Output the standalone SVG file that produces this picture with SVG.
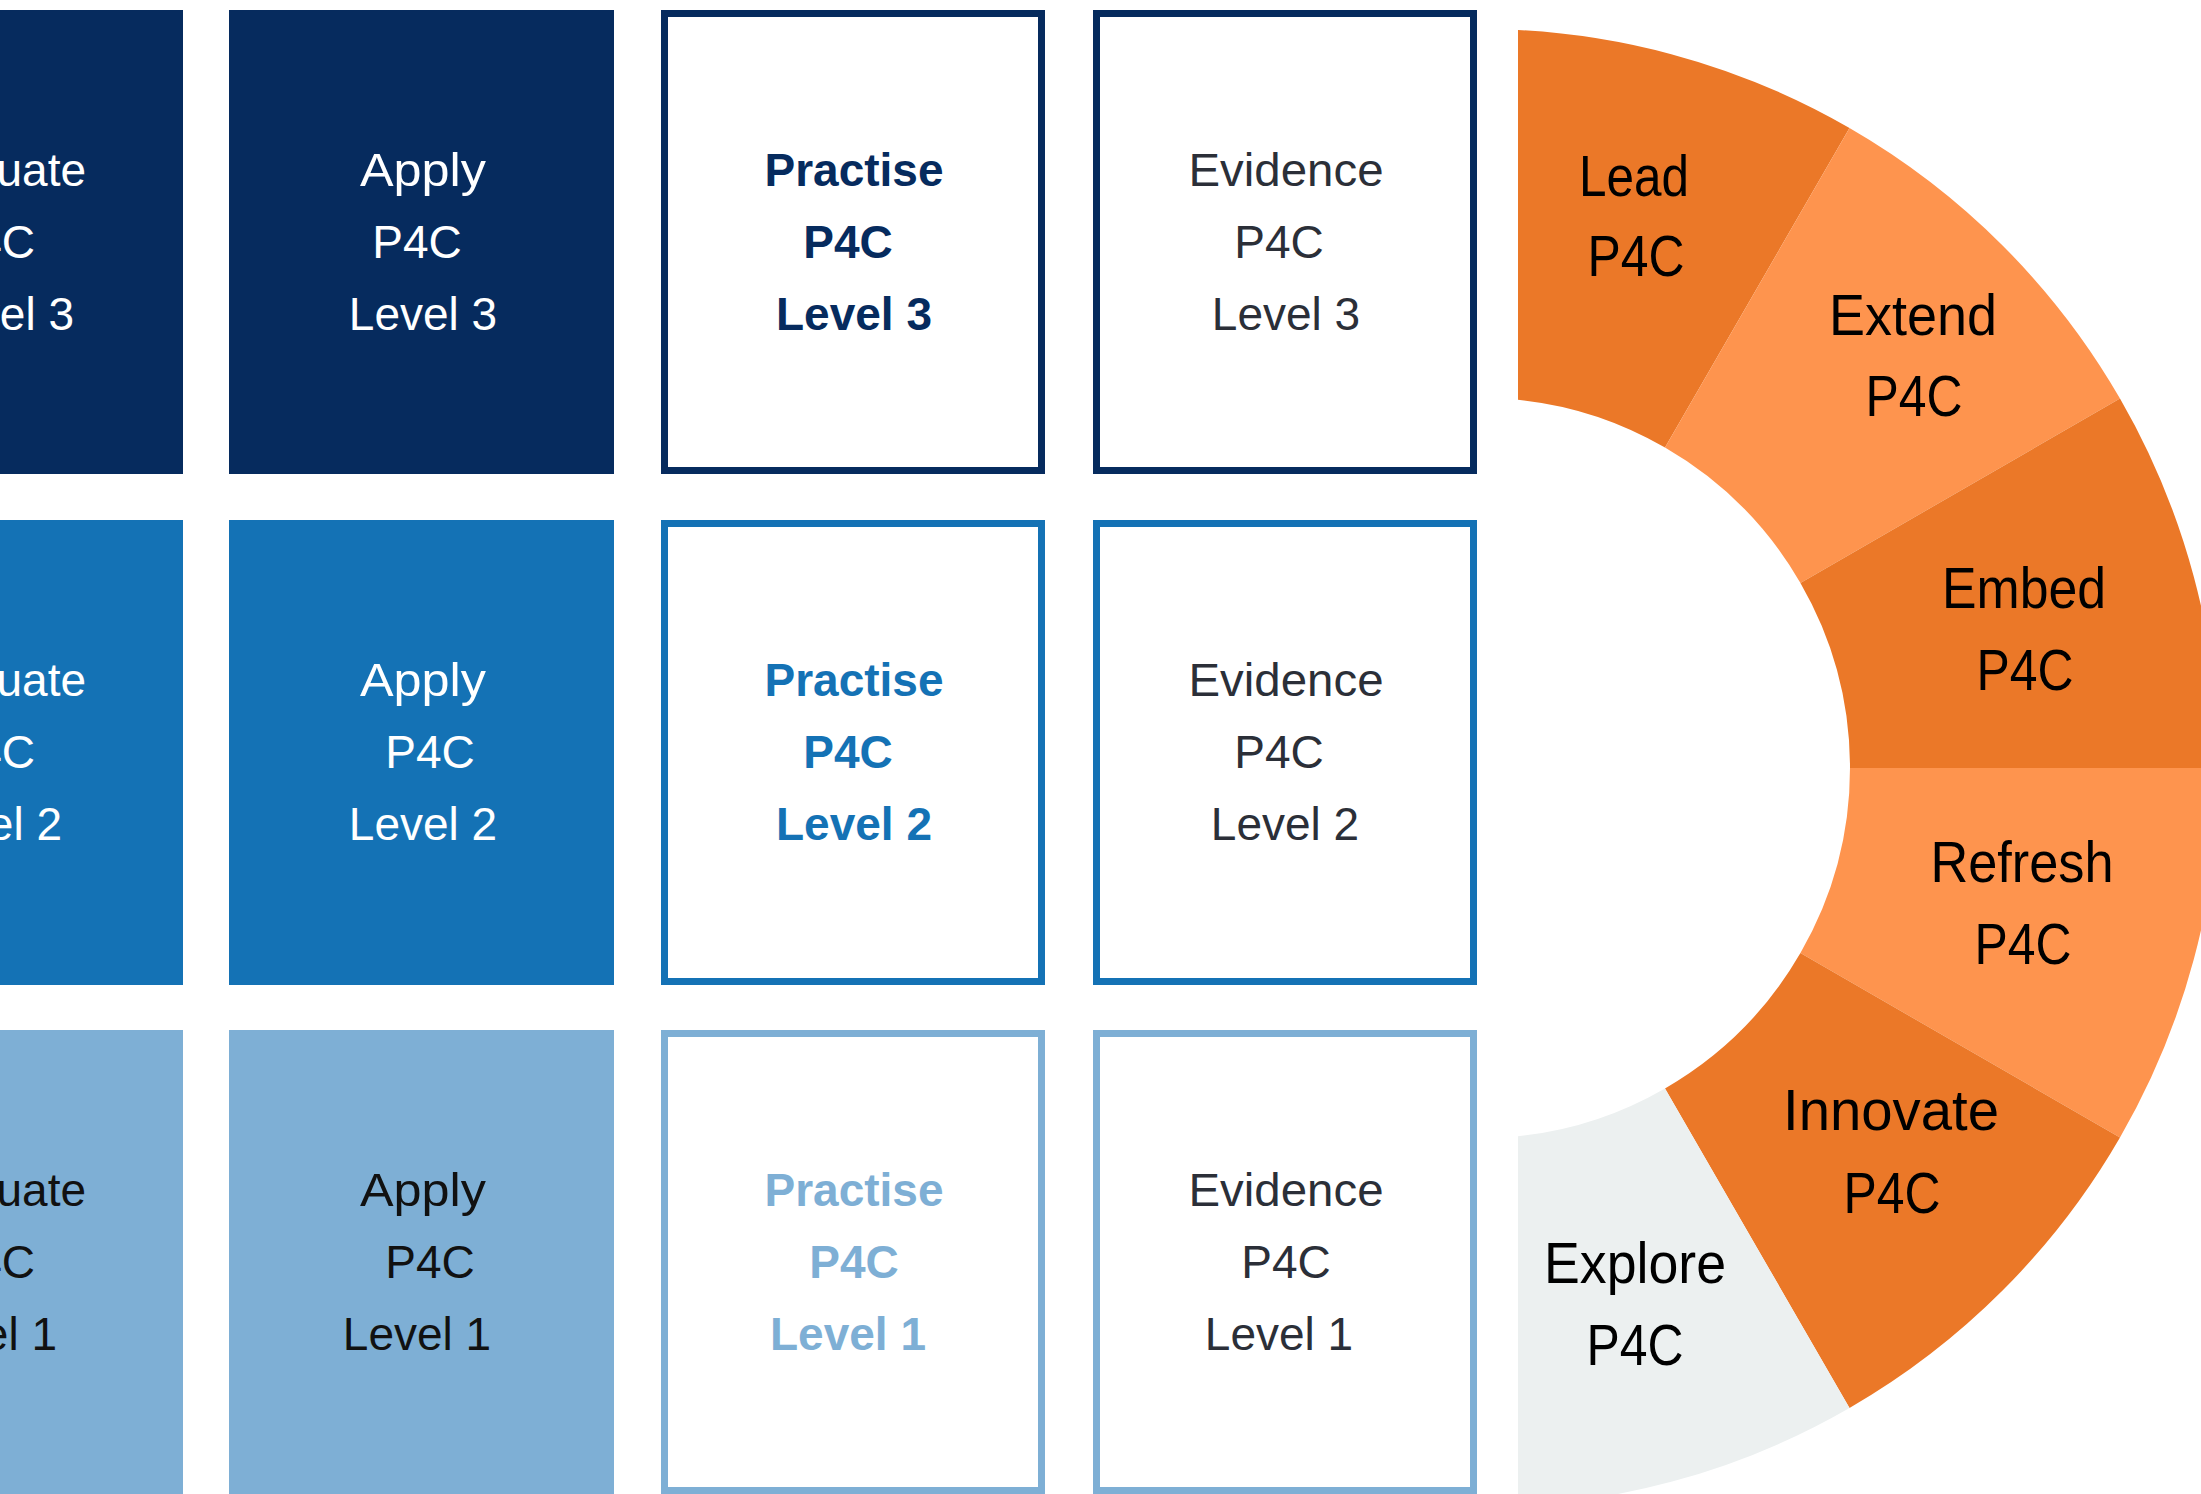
<svg xmlns="http://www.w3.org/2000/svg" width="2201" height="1494" viewBox="0 0 2201 1494">
<style>
.t{font-family:"Liberation Sans",Arial,sans-serif;font-size:46px;text-anchor:middle}
.e{text-anchor:end}
.b{font-weight:bold}
.r{font-family:"Liberation Sans",Arial,sans-serif;font-size:57px;text-anchor:middle;fill:#000}
.f3{fill:#062B5E}.f2{fill:#1472B5}.f1{fill:#7EAFD5}
.s3{fill:#fff;stroke:#062B5E;stroke-width:7}
.s2{fill:#fff;stroke:#1472B5;stroke-width:7}
.s1{fill:#fff;stroke:#7EAFD5;stroke-width:7}
.w{fill:#fff}.k{fill:#111}.g{fill:#2B2F38}
.dk{fill:#EB7828}.lt{fill:#FE944E}.gr{fill:#ECF0F0}
</style>
<defs>
<clipPath id="ringclip"><rect x="1518" y="0" width="700" height="1494"/></clipPath>
</defs>
<rect width="2201" height="1494" fill="#fff"/>

<!-- Column 1 (cut off at the left edge, as in the reference) -->
<g id="evaluate-3"><rect x="-202" y="10" width="385" height="464" class="f3"/>
<text class="t e w" x="86" y="186">Evaluate</text><text class="t e w" x="35" y="258">P4C</text><text class="t e w" x="74" y="330">Level 3</text></g>
<g id="evaluate-2"><rect x="-202" y="520" width="385" height="465" class="f2"/>
<text class="t e w" x="86" y="696">Evaluate</text><text class="t e w" x="35" y="768">P4C</text><text class="t e w" x="62" y="840">Level 2</text></g>
<g id="evaluate-1"><rect x="-202" y="1030" width="385" height="465" class="f1"/>
<text class="t e k" x="86" y="1206">Evaluate</text><text class="t e k" x="35" y="1278">P4C</text><text class="t e k" x="57" y="1350">Level 1</text></g>

<!-- Column 2: Apply -->
<g id="apply-3"><rect x="229" y="10" width="385" height="464" class="f3"/>
<text class="t w" x="423" y="186" textLength="126" lengthAdjust="spacingAndGlyphs">Apply</text><text class="t w" x="417" y="258">P4C</text><text class="t w" x="423" y="330">Level 3</text></g>
<g id="apply-2"><rect x="229" y="520" width="385" height="465" class="f2"/>
<text class="t w" x="423" y="696" textLength="126" lengthAdjust="spacingAndGlyphs">Apply</text><text class="t w" x="430" y="768">P4C</text><text class="t w" x="423" y="840">Level 2</text></g>
<g id="apply-1"><rect x="229" y="1030" width="385" height="465" class="f1"/>
<text class="t k" x="423" y="1206" textLength="126" lengthAdjust="spacingAndGlyphs">Apply</text><text class="t k" x="430" y="1278">P4C</text><text class="t k" x="417" y="1350">Level 1</text></g>

<!-- Column 3: Practise -->
<g id="practise-3"><rect x="664.5" y="13.5" width="377" height="457" class="s3"/>
<text class="t b f3" x="854" y="186">Practise</text><text class="t b f3" x="848" y="258">P4C</text><text class="t b f3" x="854" y="330">Level 3</text></g>
<g id="practise-2"><rect x="664.5" y="523.5" width="377" height="458" class="s2"/>
<text class="t b f2" x="854" y="696">Practise</text><text class="t b f2" x="848" y="768">P4C</text><text class="t b f2" x="854" y="840">Level 2</text></g>
<g id="practise-1"><rect x="664.5" y="1033.5" width="377" height="457" class="s1"/>
<text class="t b f1" x="854" y="1206">Practise</text><text class="t b f1" x="854" y="1278">P4C</text><text class="t b f1" x="848" y="1350">Level 1</text></g>

<!-- Column 4: Evidence -->
<g id="evidence-3"><rect x="1096.5" y="13.5" width="377" height="457" class="s3"/>
<text class="t g" x="1286" y="186" textLength="195" lengthAdjust="spacingAndGlyphs">Evidence</text><text class="t g" x="1279" y="258">P4C</text><text class="t g" x="1286" y="330">Level 3</text></g>
<g id="evidence-2"><rect x="1096.5" y="523.5" width="377" height="458" class="s2"/>
<text class="t g" x="1286" y="696" textLength="195" lengthAdjust="spacingAndGlyphs">Evidence</text><text class="t g" x="1279" y="768">P4C</text><text class="t g" x="1285" y="840">Level 2</text></g>
<g id="evidence-1"><rect x="1096.5" y="1033.5" width="377" height="457" class="s1"/>
<text class="t g" x="1286" y="1206" textLength="195" lengthAdjust="spacingAndGlyphs">Evidence</text><text class="t g" x="1286" y="1278">P4C</text><text class="t g" x="1279" y="1350">Level 1</text></g>

<!-- Ring -->
<g clip-path="url(#ringclip)">
<g id="lead"><path class="dk" d="M1480 29 A739 739 0 0 1 1849.5 128.01 L1665 447.57 A370 370 0 0 0 1480 398 Z"/>
<text class="r" x="1634" y="196" textLength="110" lengthAdjust="spacingAndGlyphs">Lead</text><text class="r" x="1636" y="276" textLength="97" lengthAdjust="spacingAndGlyphs">P4C</text></g>
<g id="extend"><path class="lt" d="M1849.5 128.01 A739 739 0 0 1 2119.99 398.5 L1800.43 583 A370 370 0 0 0 1665 447.57 Z"/>
<text class="r" x="1913" y="335" textLength="168" lengthAdjust="spacingAndGlyphs">Extend</text><text class="r" x="1914" y="416" textLength="97" lengthAdjust="spacingAndGlyphs">P4C</text></g>
<g id="embed"><path class="dk" d="M2119.99 398.5 A739 739 0 0 1 2219 768 L1850 768 A370 370 0 0 0 1800.43 583 Z"/>
<text class="r" x="2024" y="608" textLength="164" lengthAdjust="spacingAndGlyphs">Embed</text><text class="r" x="2025" y="690" textLength="97" lengthAdjust="spacingAndGlyphs">P4C</text></g>
<g id="refresh"><path class="lt" d="M2219 768 A739 739 0 0 1 2119.99 1137.5 L1800.43 953 A370 370 0 0 0 1850 768 Z"/>
<text class="r" x="2022" y="882" textLength="183" lengthAdjust="spacingAndGlyphs">Refresh</text><text class="r" x="2023" y="964" textLength="97" lengthAdjust="spacingAndGlyphs">P4C</text></g>
<g id="innovate"><path class="dk" d="M2119.99 1137.5 A739 739 0 0 1 1849.5 1408 L1665 1088.43 A370 370 0 0 0 1800.43 953 Z"/>
<text class="r" x="1891" y="1130" textLength="216" lengthAdjust="spacingAndGlyphs">Innovate</text><text class="r" x="1892" y="1213" textLength="97" lengthAdjust="spacingAndGlyphs">P4C</text></g>
<g id="explore"><path class="gr" d="M1849.5 1408 A739 739 0 0 1 1480 1507 L1480 1138 A370 370 0 0 0 1665 1088.43 Z"/>
<text class="r" x="1635" y="1283" textLength="182" lengthAdjust="spacingAndGlyphs">Explore</text><text class="r" x="1635" y="1365" textLength="97" lengthAdjust="spacingAndGlyphs">P4C</text></g>
</g>
</svg>
